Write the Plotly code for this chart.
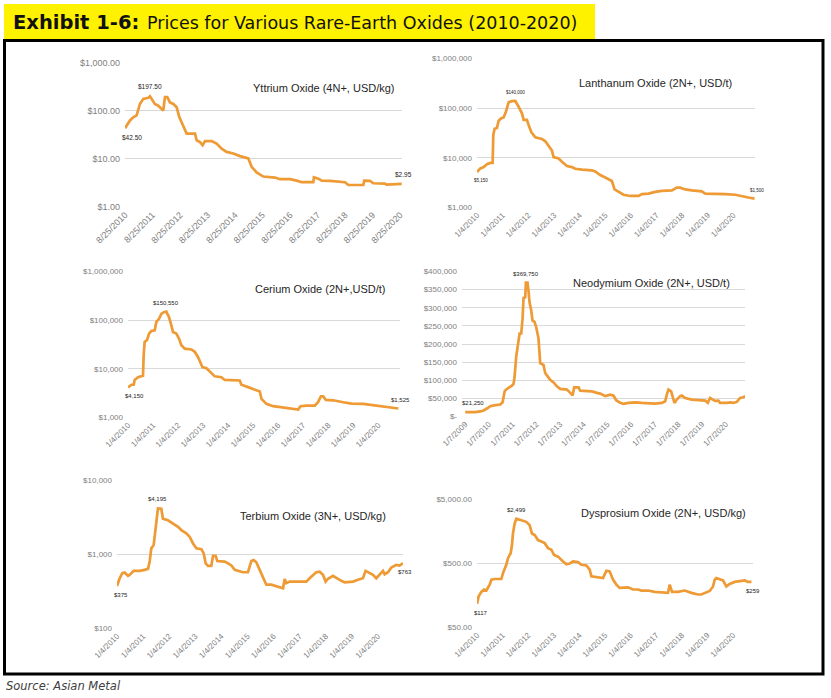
import math
import plotly.graph_objects as go

# ------------------------------------------------------------------ data
YTTRIUM_DATES = ["2010-08-25","2010-10-30","2010-12-13","2011-01-26","2011-03-11","2011-04-25","2011-06-30","2011-07-22","2011-09-26","2011-11-09",
                 "2012-01-15","2012-02-07","2012-03-09","2012-04-13","2012-05-28","2012-07-11","2012-08-15","2012-10-08","2012-11-21","2013-03-12",
                 "2013-04-03","2013-05-17","2013-06-21","2013-07-23","2013-10-19","2013-12-24","2014-02-28","2014-05-06","2014-08-02","2014-10-30",
                 "2015-02-18","2015-04-03","2015-06-08","2015-09-05","2016-02-07","2016-04-14","2016-08-25","2016-11-21","2017-01-26","2017-06-30",
                 "2017-07-08","2017-09-05","2017-10-19","2018-02-07","2018-06-19","2018-08-25","2018-10-08","2019-04-25","2019-05-08","2019-07-22",
                 "2019-09-05","2020-02-07","2020-02-28","2020-06-19","2020-09-16"]
YTTRIUM_PRICES = [42.5,62,72,79,137,175,185,197.5,137,126,
                  100,190,190,148,137,117,73,49,33,33,
                  24,22,19,23,23,20.4,16,13.7,12.7,11.2,
                  10,6.7,5.1,4.2,4.0,3.7,3.7,3.45,3.2,3.2,
                  4.05,3.8,3.45,3.4,3.34,3.2,2.8,2.8,3.45,3.4,
                  3.04,2.99,2.85,2.9,2.95]

LANTHANUM_DATES = ["2010-01-04","2010-02-21","2010-04-09","2010-05-26","2010-07-13","2010-08-15","2010-08-24","2010-09-12","2010-10-15","2010-11-08",
                   "2010-12-16","2011-01-18","2011-02-21","2011-03-31","2011-05-17","2011-07-03","2011-08-19","2011-10-06","2011-10-30","2011-12-16",
                   "2012-01-09","2012-02-16","2012-04-13","2012-07-17","2012-09-03","2012-10-20","2012-12-06","2012-12-30","2013-03-11","2013-04-28",
                   "2013-07-08","2013-09-17","2013-11-03","2014-02-07","2014-06-28","2014-08-14","2014-10-25","2015-01-04","2015-04-09","2015-05-17",
                   "2015-07-22","2015-09-22","2015-12-25","2016-04-23","2016-06-10","2016-09-12","2016-12-16","2017-03-22","2017-08-10","2017-10-20",
                   "2017-12-06","2018-02-16","2018-05-22","2018-10-11","2018-11-28","2019-04-18","2019-09-08","2020-01-28","2020-05-03","2020-08-05",
                   "2020-10-30"]
LANTHANUM_PRICES = [5150,6100,6500,7400,7900,7900,29000,38600,40000,56000,
                    63000,65000,86000,132000,139000,140000,108000,79000,58000,58000,
                    46000,33000,26000,24000,21500,17000,14000,10300,9700,8300,
                    6800,6500,6000,5800,5600,5300,4500,4000,3400,2300,
                    2000,1800,1700,1700,1850,1900,2060,2150,2200,2500,
                    2500,2300,2200,2100,1900,1900,1850,1800,1660,1580,
                    1500]

CERIUM_DATES = ["2010-01-04","2010-02-22","2010-03-28","2010-04-11","2010-05-30","2010-07-17","2010-08-11","2010-08-21","2010-09-04","2010-10-08",
                "2010-11-07","2010-12-11","2011-01-29","2011-02-22","2011-04-02","2011-05-06","2011-06-09","2011-07-17","2011-08-25","2011-09-28",
                "2011-10-23","2011-12-10","2012-01-19","2012-02-22","2012-04-11","2012-07-17","2012-09-04","2012-10-23","2012-12-10","2012-12-25",
                "2013-02-22","2013-04-12","2013-06-23","2013-09-28","2013-11-16","2014-06-23","2014-07-17","2014-10-23","2015-02-22","2015-04-12",
                "2015-05-06","2015-07-17","2015-10-23","2016-01-29","2016-05-06","2016-08-11","2016-10-23","2016-11-26","2017-02-22","2017-06-23",
                "2017-08-11","2017-09-19","2017-10-23","2017-12-01","2018-03-18","2018-08-11","2018-12-10","2019-05-30","2019-10-23","2020-03-18",
                "2020-06-23","2020-10-23"]
CERIUM_PRICES = [4150,4700,4700,5900,6700,7000,7200,19200,35800,39000,
                 53000,60000,62000,92000,107000,135000,146000,150550,116000,79000,
                 57000,53000,42000,30600,26000,25000,22400,17300,12000,10800,
                 10300,8800,7000,6700,5900,5760,4700,4200,3600,3400,
                 2400,1900,1700,1620,1550,1480,1450,1700,1750,1750,
                 2080,2700,2700,2300,2250,2050,1930,1900,1800,1700,
                 1600,1525]

NEODYMIUM_DATES = ["2009-01-07","2009-03-26","2009-06-11","2009-08-27","2009-10-17","2009-12-08","2010-01-28","2010-04-15","2010-07-01","2010-08-06",
                   "2010-09-06","2010-09-26","2010-11-06","2010-12-28","2011-01-22","2011-02-07","2011-03-04","2011-03-30","2011-04-25","2011-05-20",
                   "2011-06-10","2011-06-25","2011-07-21","2011-07-31","2011-08-25","2011-09-10","2011-09-25","2011-10-21","2011-11-10","2011-12-11",
                   "2012-01-06","2012-02-11","2012-03-08","2012-04-28","2012-05-24","2012-07-04","2012-08-09","2012-09-30","2012-11-20","2013-01-11",
                   "2013-04-24","2013-06-14","2013-07-20","2013-08-14","2013-10-20","2013-11-15","2014-05-14","2014-07-30","2014-09-19","2014-12-05",
                   "2015-02-21","2015-04-13","2015-05-23","2015-07-24","2015-09-13","2015-11-29","2016-03-12","2016-06-23","2016-10-03","2017-01-14",
                   "2017-04-27","2017-06-17","2017-07-12","2017-08-07","2017-09-17","2017-10-13","2017-11-07","2017-12-13","2018-02-03","2018-02-28",
                   "2018-04-20","2018-08-02","2018-11-13","2019-02-24","2019-04-05","2019-05-11","2019-06-21","2019-07-27","2019-09-16","2019-10-12",
                   "2020-01-23","2020-03-14","2020-05-05","2020-06-26","2020-08-15","2020-10-06","2020-11-01"]
NEODYMIUM_PRICES = [12000,11500,12000,13700,16400,21900,28300,31000,32800,39000,
                    69000,74000,78000,85000,90000,110000,165000,206000,229000,229000,
                    270000,327000,329000,369750,369750,347000,316000,293000,265000,261000,
                    247000,215000,147000,142000,120000,110000,101000,94000,83000,76000,
                    74000,65000,58000,80000,80000,71000,69000,65000,63000,56000,
                    60000,57500,44700,37400,34700,37400,39000,37400,35600,35600,
                    37400,42000,60000,74000,69000,56000,37400,46500,56000,57500,
                    51000,46500,44700,43800,37400,51000,46500,43000,43800,37400,
                    37400,39000,37400,40000,51000,53000,56250]

TERBIUM_DATES = ["2010-01-04","2010-02-11","2010-03-19","2010-04-21","2010-06-07","2010-06-30","2010-08-25","2010-11-17","2011-01-26","2011-03-14",
                 "2011-04-06","2011-04-29","2011-06-01","2011-06-19","2011-07-08","2011-07-31","2011-09-16","2011-10-09","2011-12-18","2012-02-26",
                 "2012-05-07","2012-06-23","2012-08-31","2012-10-17","2012-12-03","2013-01-19","2013-03-29","2013-05-01","2013-05-29","2013-07-01",
                 "2013-08-16","2013-09-09","2013-10-16","2013-11-08","2014-02-19","2014-04-07","2014-05-24","2014-07-09","2014-09-17","2014-11-02",
                 "2015-01-11","2015-02-27","2015-04-01","2015-05-08","2015-06-24","2015-08-09","2015-09-25","2015-12-03","2016-02-12","2016-05-16",
                 "2016-06-08","2016-07-01","2016-08-17","2016-11-18","2017-04-07","2017-05-23","2017-08-24","2017-10-10","2017-11-26","2018-01-02",
                 "2018-02-04","2018-04-15","2018-06-01","2018-08-09","2018-09-25","2019-01-20","2019-03-31","2019-06-08","2019-07-15","2019-09-10",
                 "2019-10-26","2019-12-12","2020-01-28","2020-03-15","2020-04-07","2020-05-24","2020-07-09","2020-09-17","2020-11-03","2020-12-19"]
TERBIUM_PRICES = [375,478,558,570,515,530,600,600,620,640,
                  800,1210,1340,2020,3050,4195,4170,3050,2900,2620,
                  2370,2140,1930,1740,1410,1210,1180,1040,760,700,
                  700,960,960,815,800,760,710,620,600,575,
                  575,815,840,785,620,478,390,390,370,350,
                  465,410,430,430,430,478,575,585,530,430,
                  470,515,478,440,420,430,455,478,600,558,
                  530,478,530,600,540,575,665,725,710,763]

DYSPROSIUM_DATES = ["2010-01-04","2010-01-28","2010-03-07","2010-04-14","2010-05-17","2010-07-04","2010-07-28","2010-09-13","2010-12-17","2011-01-10",
                    "2011-02-26","2011-03-22","2011-04-29","2011-05-18","2011-06-01","2011-06-25","2011-07-19","2011-09-28","2011-12-08","2012-01-25",
                    "2012-02-27","2012-04-06","2012-05-23","2012-07-10","2012-08-26","2012-10-13","2012-11-30","2013-01-07","2013-03-05","2013-05-15",
                    "2013-07-02","2013-08-19","2013-10-05","2013-12-15","2014-02-01","2014-04-13","2014-05-31","2014-06-23","2014-09-02","2014-12-07",
                    "2015-01-23","2015-03-11","2015-04-28","2015-06-15","2015-08-01","2015-10-11","2015-11-28","2016-02-08","2016-04-19","2016-06-06",
                    "2016-09-09","2016-12-13","2017-04-11","2017-06-21","2017-07-15","2017-08-17","2017-11-10","2018-02-14","2018-05-20","2018-08-23",
                    "2018-10-09","2018-12-19","2019-02-05","2019-03-25","2019-04-18","2019-05-11","2019-06-28","2019-08-14","2019-10-01","2019-11-17",
                    "2020-01-28","2020-04-09","2020-06-19","2020-08-06","2020-09-23"]
DYSPROSIUM_PRICES = [117,154,180,196,189,234,280,286,286,354,
                     477,606,724,970,1470,2100,2499,2370,2240,1990,
                     1470,1390,1160,1100,1040,870,820,680,640,537,
                     488,500,537,525,477,466,400,316,305,297,
                     386,377,280,234,208,208,212,196,196,189,
                     189,180,174,174,234,180,180,189,174,164,
                     164,180,186,219,280,297,280,272,219,240,
                     258,264,272,258,259]

# tick labels
XT_AUG25_VALS = ["2010-08-25","2011-08-25","2012-08-25","2013-08-25","2014-08-25","2015-08-25",
                 "2016-08-25","2017-08-25","2018-08-25","2019-08-25","2020-08-25"]
XT_AUG25_TEXT = ["8/25/2010","8/25/2011","8/25/2012","8/25/2013","8/25/2014","8/25/2015",
                 "8/25/2016","8/25/2017","8/25/2018","8/25/2019","8/25/2020"]
XT_JAN4_VALS = ["2010-01-04","2011-01-04","2012-01-04","2013-01-04","2014-01-04","2015-01-04",
                "2016-01-04","2017-01-04","2018-01-04","2019-01-04","2020-01-04"]
XT_JAN4_TEXT = ["1/4/2010","1/4/2011","1/4/2012","1/4/2013","1/4/2014","1/4/2015",
                "1/4/2016","1/4/2017","1/4/2018","1/4/2019","1/4/2020"]
XT_JAN7_VALS = ["2009-01-07","2010-01-07","2011-01-07","2012-01-07","2013-01-07","2014-01-07",
                "2015-01-07","2016-01-07","2017-01-07","2018-01-07","2019-01-07","2020-01-07"]
XT_JAN7_TEXT = ["1/7/2009","1/7/2010","1/7/2011","1/7/2012","1/7/2013","1/7/2014",
                "1/7/2015","1/7/2016","1/7/2017","1/7/2018","1/7/2019","1/7/2020"]

YT_Y_VALS = [1, 10, 100, 1000]
YT_Y_TEXT = ["$1.00", "$10.00", "$100.00", "$1,000.00"]
YT_T_VALS = [1000, 10000, 100000, 1000000]
YT_T_TEXT = ["$1,000", "$10,000", "$100,000", "$1,000,000"]
YT_ND_VALS = [0, 50000, 100000, 150000, 200000, 250000, 300000, 350000, 400000]
YT_ND_TEXT = ["$-", "$50,000", "$100,000", "$150,000", "$200,000", "$250,000", "$300,000", "$350,000", "$400,000"]
YT_TB_VALS = [100, 1000, 10000]
YT_TB_TEXT = ["$100", "$1,000", "$10,000"]
YT_DY_VALS = [50, 500, 5000]
YT_DY_TEXT = ["$50.00", "$500.00", "$5,000.00"]

# ------------------------------------------------------------------ style / layout
W, H = 831, 698
LINE_COLOR = "#EE9A35"
GRID_COLOR = "#D9D9D9"
TICK_COLOR = "#808080"
FONT = "Liberation Sans, Arial, sans-serif"


def fx(px):
    return px / W


def fy(py):
    return 1 - py / H


panels = [
    dict(name="Yttrium Oxide (4N+, USD/kg)", dates=YTTRIUM_DATES, vals=YTTRIUM_PRICES, log=True,
         yr=[0, 3], ytv=YT_Y_VALS, ytt=YT_Y_TEXT, xtv=XT_AUG25_VALS, xtt=XT_AUG25_TEXT,
         xr=["2010-08-25", "2020-09-20"], dx=(125, 402), dy=(62, 207), title_at=(397, 88), tfs=9,
         lfs=6.5, lbl=[("$42.50", 0, "below"), ("$197.50", "max", "above"), ("$2.95", -1, "above")]),
    dict(name="Lanthanum Oxide (2N+, USD/t)", dates=LANTHANUM_DATES, vals=LANTHANUM_PRICES, log=True,
         yr=[3, 6], ytv=YT_T_VALS, ytt=YT_T_TEXT, xtv=XT_JAN4_VALS, xtt=XT_JAN4_TEXT,
         xr=["2010-01-04", "2020-11-06"], dx=(477, 755), dy=(58, 208), title_at=(734, 83), tfs=8,
         lfs=4.5, lbl=[("$5,150", 0, "below"), ("$140,000", "max", "above"), ("$1,500", -1, "above")]),
    dict(name="Cerium Oxide (2N+,USD/t)", dates=CERIUM_DATES, vals=CERIUM_PRICES, log=True,
         yr=[3, 6], ytv=YT_T_VALS, ytt=YT_T_TEXT, xtv=XT_JAN4_VALS, xtt=XT_JAN4_TEXT,
         xr=["2010-01-04", "2020-11-17"], dx=(128, 400), dy=(271, 418), title_at=(388, 289), tfs=8,
         lfs=6, lbl=[("$4,150", 0, "below"), ("$150,550", "max", "above"), ("$1,525", -1, "above")]),
    dict(name="Neodymium Oxide (2N+, USD/t)", dates=NEODYMIUM_DATES, vals=NEODYMIUM_PRICES, log=False,
         yr=[0, 400000], ytv=YT_ND_VALS, ytt=YT_ND_TEXT, xtv=XT_JAN7_VALS, xtt=XT_JAN7_TEXT,
         xr=["2008-11-18", "2020-10-30"], dx=(462, 745), dy=(271, 417), title_at=(732, 283), tfs=8,
         lfs=6, lbl=[("$21,250", 0, "above"), ("$369,750", "max", "above"), ("$56,250", -1, "above")]),
    dict(name="Terbium Oxide (3N+, USD/kg)", dates=TERBIUM_DATES, vals=TERBIUM_PRICES, log=True,
         yr=[2, 4], ytv=YT_TB_VALS, ytt=YT_TB_TEXT, xtv=XT_JAN4_VALS, xtt=XT_JAN4_TEXT,
         xr=["2010-01-04", "2020-12-20"], dx=(117, 403), dy=(480, 629), title_at=(388, 516), tfs=8,
         lfs=6, lbl=[("$375", 0, "below"), ("$4,195", "max", "above"), ("$763", -1, "below")]),
    dict(name="Dysprosium Oxide (2N+, USD/kg)", dates=DYSPROSIUM_DATES, vals=DYSPROSIUM_PRICES, log=True,
         yr=[math.log10(50), math.log10(5000)], ytv=YT_DY_VALS, ytt=YT_DY_TEXT, xtv=XT_JAN4_VALS, xtt=XT_JAN4_TEXT,
         xr=["2010-01-04", "2020-10-15"], dx=(477, 753), dy=(499, 628), title_at=(748, 513), tfs=8,
         lfs=6, lbl=[("$117", 0, "below"), ("$2,499", "max", "above"), ("$259", -1, "below")]),
]

fig = go.Figure()
layout = dict(
    template="none",
    width=W, height=H, autosize=False,
    margin=dict(l=0, r=0, t=0, b=0, pad=0),
    paper_bgcolor="white", plot_bgcolor="white",
    showlegend=False,
    font=dict(family=FONT, color="#333333"),
)
annotations = []
shapes = []

for i, p in enumerate(panels, start=1):
    suf = "" if i == 1 else str(i)
    xa, ya = "x" + suf, "y" + suf
    fig.add_trace(go.Scatter(x=p["dates"], y=p["vals"], mode="lines",
                             line=dict(color=LINE_COLOR, width=2.7),
                             xaxis=xa, yaxis=ya, hoverinfo="skip"))
    pad = 0.004 * (p["yr"][1] - p["yr"][0])
    layout["xaxis" + suf] = dict(
        type="date", domain=[fx(p["dx"][0]), fx(p["dx"][1])], anchor=ya,
        range=p["xr"], tickvals=p["xtv"], ticktext=p["xtt"], tickangle=-45,
        tickfont=dict(family=FONT, size=p["tfs"], color=TICK_COLOR),
        showgrid=False, zeroline=False, showline=False, ticks="", fixedrange=True,
        automargin=False,
    )
    layout["yaxis" + suf] = dict(
        type="log" if p["log"] else "linear",
        domain=[fy(p["dy"][1]), fy(p["dy"][0])], anchor=xa,
        range=[p["yr"][0] - pad, p["yr"][1] + pad],
        tickvals=p["ytv"], ticktext=p["ytt"],
        tickfont=dict(family=FONT, size=p["tfs"], color=TICK_COLOR),
        showgrid=True, gridcolor=GRID_COLOR, gridwidth=1, zeroline=False,
        showline=False, ticks="", ticklabelstandoff=4, fixedrange=True,
        automargin=False,
    )
    annotations.append(dict(
        text=p["name"], xref="paper", yref="paper",
        x=fx(p["title_at"][0]), y=fy(p["title_at"][1]), xanchor="right", yanchor="middle",
        showarrow=False, font=dict(family=FONT, size=11, color="#262626"),
    ))
    vals = p["vals"]
    for text, idx, pos in p["lbl"]:
        if idx == "max":
            idx = vals.index(max(vals))
        v = vals[idx]
        yv = math.log10(v) if p["log"] else v
        if idx == 0:
            xanchor, xshift = "left", -5
        elif idx == -1:
            xanchor, xshift = "center", 2
        else:
            xanchor, xshift = "center", 0
        annotations.append(dict(
            text=text, xref=xa, yref=ya, x=p["dates"][idx], y=yv,
            xanchor=xanchor, xshift=xshift,
            yanchor="top" if pos == "below" else "bottom",
            yshift=-4 if pos == "below" else 4,
            showarrow=False, font=dict(family=FONT, size=p["lfs"], color="#222222"),
        ))

# Header bar and frame
shapes.append(dict(type="rect", xref="paper", yref="paper", x0=fx(4), x1=fx(595), y0=fy(40), y1=fy(4),
                   fillcolor="#FFF200", line=dict(width=0), layer="below"))
shapes.append(dict(type="rect", xref="paper", yref="paper", x0=fx(4.5), x1=fx(823), y0=fy(674), y1=fy(40.5),
                   fillcolor="rgba(0,0,0,0)", line=dict(color="black", width=3), layer="above"))

annotations.append(dict(text="<b>Exhibit 1-6:</b>", xref="paper", yref="paper", x=fx(11), y=fy(22),
                        xanchor="left", yanchor="middle", showarrow=False,
                        font=dict(family="DejaVu Sans", size=19.5, color="#111111")))
annotations.append(dict(text="Prices for Various Rare-Earth Oxides (2010-2020)", xref="paper", yref="paper",
                        x=fx(145), y=fy(23.5), xanchor="left", yanchor="middle", showarrow=False,
                        font=dict(family="DejaVu Sans", size=17.5, color="#111111")))
annotations.append(dict(text="<i>Source: Asian Metal</i>", xref="paper", yref="paper", x=fx(4), y=fy(686),
                        xanchor="left", yanchor="middle", showarrow=False,
                        font=dict(family="DejaVu Sans", size=11.5, color="#404040")))

layout["annotations"] = annotations
layout["shapes"] = shapes
fig.update_layout(**layout)
fig.write_html("out.html", config={"displayModeBar": False, "staticPlot": True},
               post_script="document.body.style.margin='0';document.body.style.padding='0';")
